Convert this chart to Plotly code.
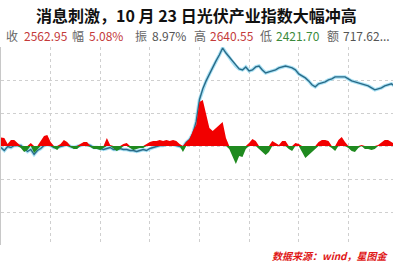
import plotly.graph_objects as go

# ---- data ----
pre_close = 2439.04
minutes = list(range(0, 241, 2))
price = [
    2436.0, 2429.8, 2438.0, 2436.0, 2440.1, 2440.1, 2440.1, 2433.9, 2427.8, 2431.9,
    2421.7, 2429.8, 2433.9, 2440.1, 2442.1, 2440.1, 2436.0, 2436.0, 2438.0, 2440.1,
    2442.1, 2438.0, 2436.0, 2438.0, 2440.1, 2442.1, 2442.1, 2440.1, 2436.0, 2436.0,
    2433.9, 2431.9, 2433.9, 2436.0, 2431.9, 2431.9, 2433.9, 2431.9, 2431.9, 2429.8,
    2429.8, 2427.8, 2429.8, 2431.9, 2429.8, 2433.9, 2436.0, 2438.0, 2440.1, 2440.1,
    2442.1, 2444.2, 2442.1, 2440.1, 2438.0, 2436.0, 2446.2, 2452.3, 2464.6, 2489.2,
    2534.2, 2556.7, 2573.0, 2587.4, 2599.6, 2614.0, 2626.3, 2640.55, 2630.3, 2622.2,
    2611.9, 2603.7, 2597.6, 2595.6, 2601.7, 2593.5, 2595.6, 2601.7, 2603.7, 2595.6,
    2589.4, 2591.5, 2593.5, 2595.6, 2599.6, 2601.7, 2603.7, 2601.7, 2599.6, 2595.6,
    2587.4, 2583.3, 2579.2, 2573.0, 2564.9, 2560.8, 2566.9, 2569.0, 2571.0, 2575.1,
    2577.1, 2581.2, 2581.2, 2581.2, 2581.2, 2577.1, 2573.0, 2571.0, 2569.0, 2566.9,
    2564.9, 2562.8, 2558.7, 2554.6, 2556.7, 2558.7, 2562.8, 2564.9, 2566.9, 2562.8,
    2562.95,
]
strength = [
    8.5, 8, 2, 6, 6, 3, -2, -6, -4, 3,
    -7, -3, 5, 10, 11, 4, -2, -4, 2, 6,
    4, -1, -3, -3, 2, 4, 4, -1, -3, -3,
    -4, -2, 8, 1, -3, -5, -3, 2, 3, -2,
    -4, -3, -2, -2, 2, 4, 5, 5, 6, 5,
    6, 5, 6, 5, 2, -6, 4, 7, 15, 21,
    44, 46, 32, 18, 15, 18, 21, 24, 8, -3,
    -11, -18, -10, -11, -3, 3, 7, 5, -3, -6,
    -9, -6, 5, 3, 1, 5, 5, -3, -5, 3,
    2, -6, -12, -9, -6, -2, 4, 6, 6, 5,
    -2, -5, 6, 9, 4, -2, -5, -6, -2, 1,
    -3, -3, -4, -3, 1, 4, 6, 6, 4, 2,
    1,
]
title_text = "消息刺激，10 月 23 日光伏产业指数大幅冲高"
stat_items = [
    ("收", "label"), ("2562.95", "up"), ("幅", "label"), ("5.08%", "up"),
    ("振", "label"), ("8.97%", "flat"), ("高", "label"), ("2640.55", "up"),
    ("低", "label"), ("2421.70", "down"), ("额", "label"), ("717.62...", "flat"),
]
source_text = "数据来源：wind，星图金"

# ---- layout constants ----
W, H = 393, 267
ML, MR, MT, MB = 1, 0, 47, 22
PH = H - MT - MB
step = 67.87
half = 3 * step
stat_x = [4, 22, 70, 87, 133, 150, 192, 208, 258, 274, 325, 341]
stat_colors = {"label": "#666666", "up": "#c43a3a", "down": "#3b8a3b", "flat": "#555555"}


def px_y(py):
    return (H - MB - py) / PH


def px_x(px):
    return (px - ML) / (W - ML - MR)


pos_part = [max(v, 0) for v in strength]
neg_part = [min(v, 0) for v in strength]

fig = go.Figure()
fig.add_trace(go.Scatter(x=minutes, y=pos_part, mode="lines", fill="tozeroy",
                         fillcolor="#f20000", line=dict(width=0, color="#f20000"),
                         yaxis="y2", hoverinfo="skip"))
fig.add_trace(go.Scatter(x=minutes, y=neg_part, mode="lines", fill="tozeroy",
                         fillcolor="#1f8a1f", line=dict(width=0, color="#1f8a1f"),
                         yaxis="y2", hoverinfo="skip"))
fig.add_trace(go.Scatter(x=minutes, y=price, mode="lines",
                         line=dict(color="rgba(140,215,240,0.75)", width=3.5), hoverinfo="skip"))
fig.add_trace(go.Scatter(x=minutes, y=price, mode="lines",
                         line=dict(color="#2a6b88", width=1.4)))

grid_vals = [pre_close + k * step for k in range(-2, 4)]
fig.update_layout(
    width=W, height=H, margin=dict(l=ML, r=MR, t=MT, b=MB),
    paper_bgcolor="white", plot_bgcolor="white", showlegend=False,
    font=dict(family="Noto Sans CJK SC, sans-serif"),
    xaxis=dict(range=[0, 237], tickvals=list(range(30, 240, 30)), showticklabels=False,
               showgrid=True, gridcolor="#cfcfcf", griddash="dot", gridwidth=1,
               zeroline=False, fixedrange=True),
    yaxis=dict(range=[pre_close - half, pre_close + half + 0.05], tickvals=grid_vals,
               showticklabels=False, showgrid=True, gridcolor="#cfcfcf", griddash="dot",
               gridwidth=1, zeroline=False, showline=True, linecolor="#c8c8c8", linewidth=1,
               mirror=False),
    yaxis2=dict(range=[-PH / 2, PH / 2], overlaying="y", showticklabels=False,
                showgrid=False, zeroline=False, visible=False),
)

anns = [dict(text="<b>" + title_text + "</b>", x=px_x(196), y=px_y(15), xref="paper", yref="paper",
             xanchor="center", yanchor="middle", showarrow=False,
             font=dict(size=16, color="#111111", family="Noto Sans CJK SC"))]
for (t, kind), xp in zip(stat_items, stat_x):
    anns.append(dict(text=t, x=px_x(xp), y=px_y(35), xref="paper", yref="paper",
                     xanchor="left", yanchor="middle", showarrow=False,
                     font=dict(size=12, color=stat_colors[kind], family="Noto Sans CJK SC")))
anns.append(dict(text="<b><i>" + source_text + "</i></b>", x=px_x(391), y=px_y(255),
                 xref="paper", yref="paper", xanchor="right", yanchor="middle", showarrow=False,
                 font=dict(size=10, color="#e01818", family="Noto Sans CJK SC")))
fig.update_layout(annotations=anns)

fig.write_html("out.html")
